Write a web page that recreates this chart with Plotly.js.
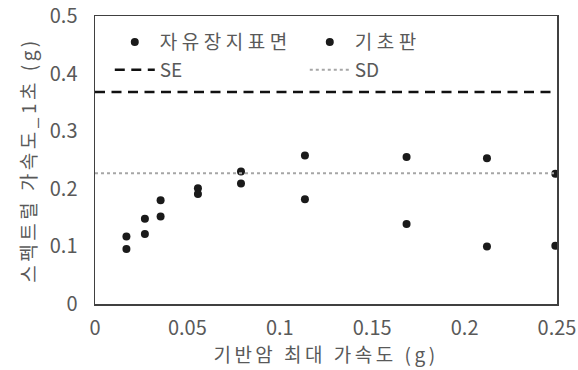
<!DOCTYPE html>
<html>
<head>
<meta charset="utf-8">
<script src="https://cdn.plot.ly/plotly-3.0.1.min.js"></script>
<style>
html,body{margin:0;padding:0;background:#fff;}
#chart{width:578px;height:370px;}
text.legendtext { letter-spacing: 4.5px; }
.legend .traces:nth-child(n+3) text.legendtext,
.legend .groups:nth-child(n+3) text.legendtext { letter-spacing: 0px; }
text.xtitle { letter-spacing: 3.5px; }
text.ytitle { letter-spacing: 3.5px; }
</style>
</head>
<body>
<div id="chart"></div>
<script>
// Data
const pga = [0.017, 0.027, 0.0355, 0.0557, 0.079, 0.1136, 0.1686, 0.2121, 0.2491];
const freeField = [0.117, 0.148, 0.180, 0.201, 0.230, 0.258, 0.255, 0.253, 0.226];
const foundation = [0.0955, 0.1215, 0.152, 0.191, 0.209, 0.182, 0.139, 0.100, 0.101];
const seX = [0, 0.25];
const seY = [0.368, 0.368];
const sdX = [0, 0.25];
const sdY = [0.227, 0.227];
const names = ['자유장지표면', '기초판', 'SE', 'SD'];
const xTicks = [0, 0.05, 0.1, 0.15, 0.2, 0.25];
const xTickText = ['0', '0.05', '0.1', '0.15', '0.2', '0.25'];
const yTicks = [0, 0.1, 0.2, 0.3, 0.4, 0.5];
const yTickText = ['0', '0.1', '0.2', '0.3', '0.4', '0.5'];

const FONT = '"Noto Sans CJK KR", "Noto Sans", sans-serif';
const TXT = '#595959';

const traces = [
  {x: pga, y: freeField, name: names[0], mode: 'markers', type: 'scatter',
   marker: {color: '#1a1a1a', size: 8}},
  {x: pga, y: foundation, name: names[1], mode: 'markers', type: 'scatter',
   marker: {color: '#1a1a1a', size: 8}},
  {x: seX, y: seY, name: names[2], mode: 'lines', type: 'scatter',
   line: {color: '#111111', width: 2.5, dash: '10px,6.5px'}},
  {x: sdX, y: sdY, name: names[3], mode: 'lines', type: 'scatter',
   line: {color: '#a6a6a6', width: 2, dash: 'dot'}}
];

const layout = {
  width: 578, height: 370,
  margin: {l: 95, r: 21, t: 16, b: 66},
  paper_bgcolor: '#ffffff', plot_bgcolor: '#ffffff',
  font: {family: FONT, color: TXT, size: 20},
  showlegend: true,
  legend: {
    orientation: 'h', x: 0.032, xanchor: 'left', y: 0.975, yanchor: 'top',
    entrywidth: 140, entrywidthmode: 'pixels',
    font: {family: FONT, size: 19, color: TXT},
    bgcolor: 'rgba(0,0,0,0)', itemwidth: 40
  },
  xaxis: {
    range: [0, 0.25], tickvals: xTicks, ticktext: xTickText,
    showgrid: false, zeroline: false, ticks: '',
    showline: true, linecolor: '#404040', linewidth: 1.5, mirror: true,
    tickfont: {family: FONT, size: 20, color: TXT},
    ticklabelstandoff: 5,
    title: {text: '기반암 최대 가속도 (g)', font: {family: FONT, size: 19, color: TXT}, standoff: 2},
    fixedrange: true
  },
  yaxis: {
    range: [0, 0.5], tickvals: yTicks, ticktext: yTickText,
    showgrid: false, zeroline: false, ticks: '',
    showline: true, linecolor: '#404040', linewidth: 1.5, mirror: true,
    tickfont: {family: FONT, size: 20, color: TXT},
    ticklabelstandoff: 12,
    title: {text: '스펙트럴 가속도_1초 (g)', font: {family: FONT, size: 19, color: TXT}, standoff: 8},
    fixedrange: true
  }
};

Plotly.newPlot('chart', traces, layout, {displayModeBar: false, staticPlot: true});
</script>
</body>
</html>
